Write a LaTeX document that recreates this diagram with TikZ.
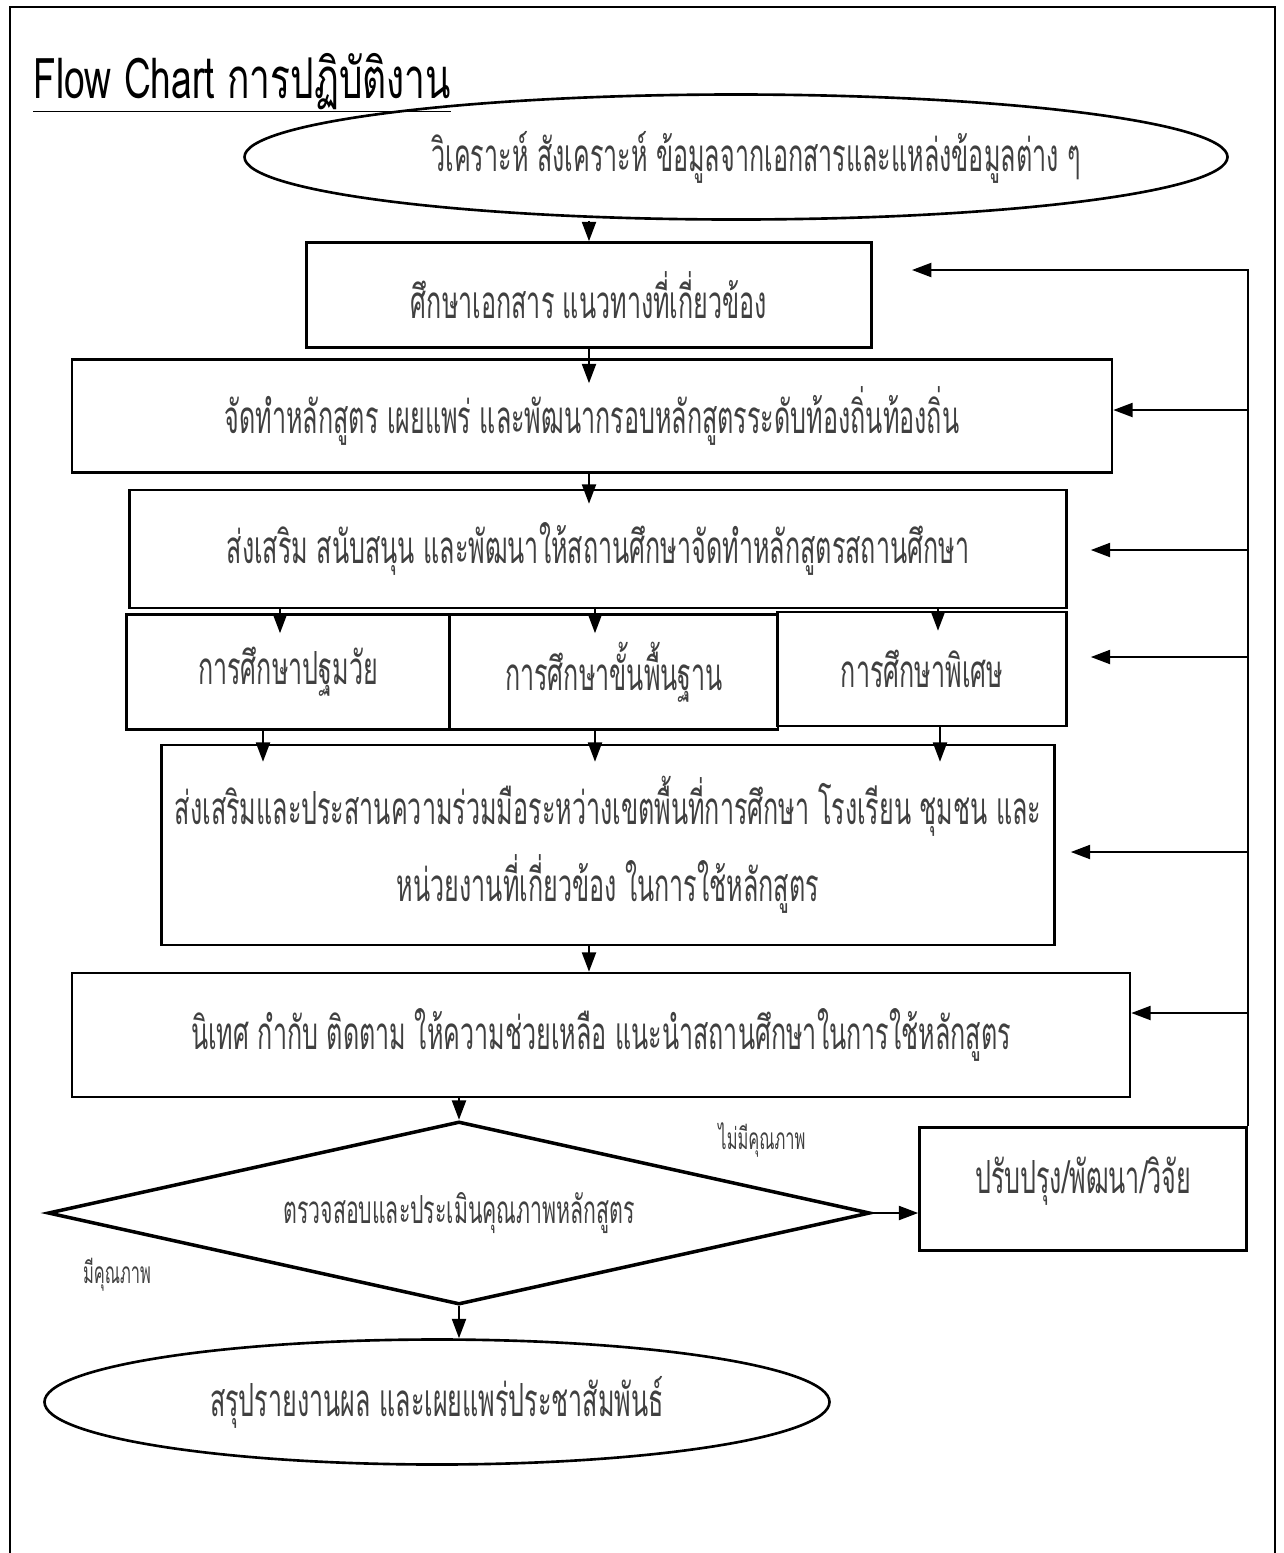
\documentclass[tikz,border=0pt]{standalone}
\usepackage{fontspec}
\usetikzlibrary{arrows.meta,shapes.geometric,positioning,calc}
\newfontfamily\thai[Script=Thai,FakeStretch=0.55]{Loma}
\newfontfamily\thaititle[Script=Thai,FakeStretch=0.66]{Loma}
\newcommand{\px}{0.02cm}
\tikzset{
  box/.style={draw, line width=1.5pt, rectangle, inner sep=0pt, text=black!75,
    font=\thai\fontsize{26}{44}\selectfont, align=center},
  oval/.style={draw, line width=1.5pt, ellipse, inner sep=0pt, text=black!75,
    font=\thai\fontsize{26}{44}\selectfont},
  decision/.style={draw, line width=2pt, diamond, aspect=4.5, inner sep=0pt, text=black!75,
    font=\thai\fontsize{22}{30}\selectfont},
  lbl/.style={text=black!75, font=\thai\fontsize{17}{20}\selectfont},
  arr/.style={-{Triangle[length=11pt,width=8pt]}, line width=1.1pt},
  line/.style={line width=1.1pt}
}
\begin{document}
\begin{tikzpicture}[x=0.02cm,y=-0.02cm]
  \useasboundingbox (0,0) rectangle (1284,1553);
  % frame
  \draw[line width=1.5pt] (10,1553) -- (10,7) -- (1275,7) -- (1275,1553);

  % title
  \node[anchor=base west, inner sep=0pt] (title) at (33,98) {\thaititle\fontsize{32}{36}\selectfont\underline{Flow Chart การปฏิบัติงาน}};

  % main column
  \node[oval, minimum width=983*\px, minimum height=125*\px] (e1) at (736,157) {\hspace*{0.8cm}วิเคราะห์ สังเคราะห์ ข้อมูลจากเอกสารและแหล่งข้อมูลต่าง ๆ};
  \node[box, minimum width=565*\px, minimum height=105*\px] (b1) at (589,295) {ศึกษาเอกสาร แนวทางที่เกี่ยวข้อง};
  \node[box, minimum width=1040*\px, minimum height=113*\px] (b2) at (592,416) {จัดทำหลักสูตร เผยแพร่ และพัฒนากรอบหลักสูตรระดับท้องถิ่นท้องถิ่น};
  \node[box, minimum width=937*\px, minimum height=118*\px] (b3) at (598,549) {ส่งเสริม สนับสนุน และพัฒนาให้สถานศึกษาจัดทำหลักสูตรสถานศึกษา};

  % three levels
  \node[box, minimum width=323*\px, minimum height=115*\px] (c1) at (288,672) {การศึกษาปฐมวัย};
  \node[box, minimum width=328*\px, minimum height=115*\px] (c2) at (614,672) {การศึกษาขั้นพื้นฐาน};
  \node[box, minimum width=289*\px, minimum height=114*\px] (c3) at (922,669) {การศึกษาพิเศษ};

  \node[box, minimum width=893*\px, minimum height=200*\px] (b5) at (608,845) {ส่งเสริมและประสานความร่วมมือระหว่างเขตพื้นที่การศึกษา โรงเรียน ชุมชน และ\\หน่วยงานที่เกี่ยวข้อง ในการใช้หลักสูตร};
  \node[box, minimum width=1058*\px, minimum height=124*\px] (b6) at (601,1035) {นิเทศ กำกับ ติดตาม ให้ความช่วยเหลือ แนะนำสถานศึกษาในการใช้หลักสูตร};

  % decision
  \node[decision, minimum width=822*\px, minimum height=183*\px] (d) at (459,1213) {ตรวจสอบและประเมินคุณภาพหลักสูตร};
  \node[box, minimum width=327*\px, minimum height=123*\px, text depth=28*\px] (s) at (1083,1189) {ปรับปรุง/พัฒนา/วิจัย};
  \node[oval, minimum width=785*\px, minimum height=125*\px] (e2) at (437,1402) {สรุปรายงานผล และเผยแพร่ประชาสัมพันธ์};

  \node[lbl] (no) at (762,1140) {ไม่มีคุณภาพ};
  \node[lbl] (yes) at (117,1275) {มีคุณภาพ};

  % arrows down
  \draw[arr] (b1.north |- e1.south) -- (b1.north);
  \draw[arr] (b1.south) -- ([yshift=-25*\px]b1.south |- b2.north);
  \draw[arr] (b2.south -| b1.south) -- ([yshift=-15*\px]b1.south |- b3.north);
  \foreach \n/\dx/\ex in {c1/-8/-25, c2/-19/-19, c3/16/18} {
    \draw[arr] ([xshift=\dx*\px]\n.north |- b3.south) -- ([xshift=\dx*\px, yshift=-20*\px]\n.north);
    \draw[arr] ([xshift=\ex*\px]\n.south) -- ([xshift=\ex*\px, yshift=-18*\px]\n.south |- b5.north);
  }
  \draw[arr] (b5.south -| b1.south) -- (b6.north -| b1.south);
  \draw[arr] (b6.south -| d.north) -- (d.north);
  \draw[arr] (d.south) -- (d.south |- e2.north);
  \draw[arr] (d.east) -- (s.west |- d.east);

  % feedback
  \coordinate (t1) at (912,270);
  \draw[arr] (s.north east) -- (s.north east |- t1) -- (t1);
  \foreach \n/\yy/\gap in {b2/410/0, b3/550/23, c3/657/23, b5/852/15, b6/1013/0} {
    \draw[arr] (s.east |- 0,\yy) -- ([xshift=\gap*\px]\n.east |- 0,\yy);
  }
\end{tikzpicture}
\end{document}
